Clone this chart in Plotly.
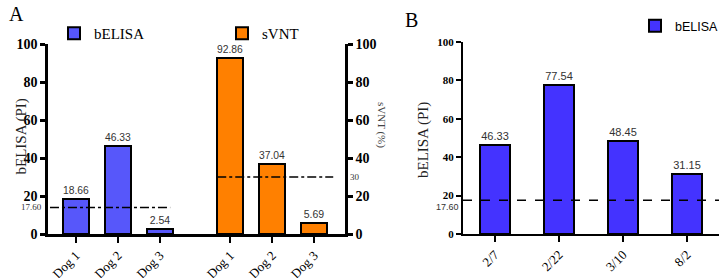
import plotly.graph_objects as go

# ---------------- data ----------------
dogs = ["Dog 1", "Dog 2", "Dog 3"]
belisa_a = [18.66, 46.33, 2.54]
svnt_a = [92.86, 37.04, 5.69]
dates_b = ["2/7", "2/22", "3/10", "8/2"]
belisa_b = [46.33, 77.54, 48.45, 31.15]
cutoff_label = "17.60"
cutoff_belisa_a_drawn = 14      # where the dash-dot line sits in panel A
cutoff_svnt = 30
cutoff_belisa_b = 17.60
y_ticks = [0, 20, 40, 60, 80, 100]

# group positions for panel A (gap between the two groups)
pos_belisa = [0, 1, 2]
pos_svnt = [3.67, 4.67, 5.67]

W, H = 720, 278
SERIF = "Liberation Serif"
SANS = "Liberation Sans"


def px(x):
    return x / W


def py(y):
    return 1 - y / H


fig = go.Figure()

fig.add_trace(go.Bar(
    x=pos_belisa, y=belisa_a, name="bELISA", width=0.62, showlegend=True,
    marker=dict(color="#5757FA", line=dict(color="black", width=2)),
    text=[f"{v:.2f}" for v in belisa_a], textposition="outside",
    textfont=dict(family=SANS, size=10.5, color="#333"), cliponaxis=False,
    xaxis="x", yaxis="y", legend="legend",
))
fig.add_trace(go.Bar(
    x=pos_svnt, y=svnt_a, name="sVNT", width=0.62, showlegend=True,
    marker=dict(color="#FF8000", line=dict(color="black", width=2)),
    text=[f"{v:.2f}" for v in svnt_a], textposition="outside",
    textfont=dict(family=SANS, size=10.5, color="#333"), cliponaxis=False,
    xaxis="x", yaxis="y2", legend="legend2",
))
fig.add_trace(go.Bar(
    x=dates_b, y=belisa_b, name="bELISA", width=0.48, showlegend=True,
    marker=dict(color="#4433FF", line=dict(color="black", width=2)),
    text=[f"{v:.2f}" for v in belisa_b], textposition="outside",
    textfont=dict(family=SANS, size=11, color="#333"), cliponaxis=False,
    xaxis="x3", yaxis="y3", legend="legend3",
))

axis_common = dict(showline=True, linecolor="black", showgrid=False,
                   zeroline=False, ticks="outside", tickcolor="black",
                   automargin=False)

fig.update_layout(
    width=W, height=H, autosize=False, showlegend=True,
    margin=dict(l=0, r=0, t=0, b=0, autoexpand=False),
    paper_bgcolor="white", plot_bgcolor="white",
    bargap=0,
    xaxis=dict(domain=[px(48), px(345)], range=[-0.667, 6.4], anchor="y",
               tickvals=pos_belisa + pos_svnt, ticktext=dogs + dogs,
               tickangle=-45, linewidth=2.5, ticklen=6, tickwidth=2,
               tickfont=dict(family=SERIF, size=13, color="black"),
               **axis_common),
    yaxis=dict(domain=[py(234), py(44)], range=[0, 100], anchor="x",
               tickvals=y_ticks, linewidth=2.5, ticklen=5, tickwidth=2.5,
               tickfont=dict(family=SERIF, size=14, color="black", weight=700),
               **axis_common),
    yaxis2=dict(overlaying="y", side="right", anchor="x", range=[0, 100],
                tickvals=y_ticks, linewidth=2.5, ticklen=5, tickwidth=2.5,
                tickfont=dict(family=SERIF, size=14, color="black", weight=700),
                **axis_common),
    xaxis3=dict(domain=[px(463), px(719)], range=[-0.5, 3.5], anchor="y3",
                tickangle=-45, linewidth=2, ticklen=6, tickwidth=2,
                tickfont=dict(family=SERIF, size=13, color="black"),
                **axis_common),
    yaxis3=dict(domain=[py(234), py(42)], range=[0, 100], anchor="x3",
                tickvals=y_ticks, linewidth=2, ticklen=5, tickwidth=2,
                tickfont=dict(family=SERIF, size=11, color="black", weight=700),
                **axis_common),
    legend=dict(x=px(54), y=py(17), xanchor="left", yanchor="top",
                font=dict(family=SERIF, size=15, color="black"),
                bgcolor="rgba(0,0,0,0)", itemwidth=30),
    legend2=dict(x=px(222), y=py(17), xanchor="left", yanchor="top",
                 font=dict(family=SERIF, size=15, color="black"),
                 bgcolor="rgba(0,0,0,0)", itemwidth=30),
    legend3=dict(x=px(635), y=py(11), xanchor="left", yanchor="top",
                 font=dict(family=SANS, size=12.5, color="black"),
                 bgcolor="rgba(0,0,0,0)", itemwidth=30),
    shapes=[
        dict(type="line", xref="x", yref="y", x0=-0.62, x1=2.24,
             y0=cutoff_belisa_a_drawn, y1=cutoff_belisa_a_drawn,
             line=dict(color="black", width=1.5, dash="dashdot")),
        dict(type="line", xref="x", yref="y2", x0=3.36, x1=6.12,
             y0=cutoff_svnt, y1=cutoff_svnt,
             line=dict(color="black", width=1.5, dash="dashdot")),
        dict(type="line", xref="x3 domain", yref="y3", x0=0, x1=1,
             y0=cutoff_belisa_b, y1=cutoff_belisa_b,
             line=dict(color="black", width=1.5, dash="dash")),
    ],
    annotations=[
        dict(text="A", x=px(7), y=py(1), xref="paper", yref="paper",
             xanchor="left", yanchor="top", showarrow=False,
             font=dict(family=SERIF, size=20, color="black")),
        dict(text="B", x=px(403), y=py(7), xref="paper", yref="paper",
             xanchor="left", yanchor="top", showarrow=False,
             font=dict(family=SERIF, size=20, color="black")),
        dict(text="bELISA (PI)", x=px(10), y=py(137), xref="paper", yref="paper",
             textangle=-90, showarrow=False,
             font=dict(family=SERIF, size=15, color="#222")),
        dict(text="sVNT (%)", x=px(382), y=py(125), xref="paper", yref="paper",
             textangle=90, showarrow=False,
             font=dict(family=SERIF, size=11, color="#444")),
        dict(text="bELISA (PI)", x=px(423), y=py(140), xref="paper", yref="paper",
             textangle=-90, showarrow=False,
             font=dict(family=SERIF, size=15, color="#222")),
        dict(text=cutoff_label, x=px(44), y=cutoff_belisa_a_drawn,
             xref="paper", yref="y", xanchor="right", showarrow=False,
             font=dict(family=SERIF, size=9, color="#333")),
        dict(text=str(cutoff_svnt), x=px(348), y=cutoff_svnt,
             xref="paper", yref="y2", xanchor="left", showarrow=False,
             font=dict(family=SERIF, size=9, color="#333")),
        dict(text=cutoff_label, x=px(461), y=cutoff_belisa_b,
             xref="paper", yref="y3", xanchor="right", yanchor="top",
             showarrow=False,
             font=dict(family=SANS, size=9, color="#333")),
    ],
)

fig.write_html(
    "out.html",
    config={"displayModeBar": False},
    post_script="document.body.style.margin='0';document.body.style.overflow='hidden';",
)
